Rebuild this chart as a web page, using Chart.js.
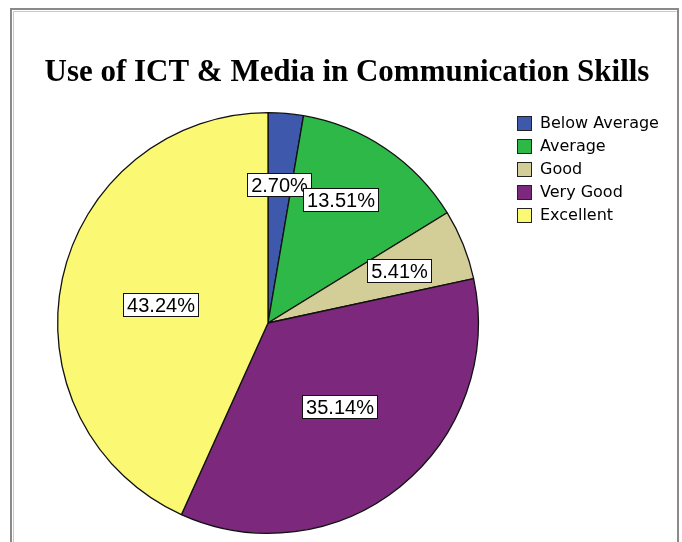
<!DOCTYPE html>
<html>
<head>
<meta charset="utf-8">
<script src="https://cdn.jsdelivr.net/npm/chart.js@4"></script>
<style>
html,body{margin:0;padding:0;background:#fff;}
canvas{display:block;}
</style>
</head>
<body>
<canvas id="c" width="682" height="542"></canvas>
<script>
const chartTitle = "Use of ICT & Media in Communication Skills";
const categories = ["Below Average", "Average", "Good", "Very Good", "Excellent"];
const counts = [1, 5, 2, 13, 16];
const percentLabels = ["2.70%", "13.51%", "5.41%", "35.14%", "43.24%"];
const sliceColors = ["#3E58AC", "#2EB848", "#D3CE97", "#7C287D", "#FBF873"];

// label placement styles: radial fraction and angular nudge (radians)
const labelRadius = [0.66, 0.68, 0.67, 0.52, 0.52];
const labelAngleNudge = [-0.005, -0.06, 0, -0.03, -0.04];

const framePlugin = {
  id: 'frame',
  beforeDraw(chart) {
    const ctx = chart.ctx;
    ctx.save();
    ctx.fillStyle = '#fff';
    ctx.fillRect(0, 0, chart.width, chart.height);
    ctx.strokeStyle = '#8a8a8a';
    ctx.lineWidth = 2;
    ctx.beginPath();
    ctx.moveTo(11, 542);
    ctx.lineTo(11, 9);
    ctx.lineTo(678, 9);
    ctx.lineTo(678, 542);
    ctx.stroke();
    ctx.strokeStyle = '#c8c8c8';
    ctx.lineWidth = 1;
    ctx.beginPath();
    ctx.moveTo(13.5, 542);
    ctx.lineTo(13.5, 11.5);
    ctx.lineTo(676.5, 11.5);
    ctx.stroke();
    // title
    let size = 29;
    ctx.font = 'bold ' + size + 'px "Liberation Serif"';
    const w = ctx.measureText(chartTitle).width;
    size = size * 605 / w;
    ctx.font = 'bold ' + size.toFixed(2) + 'px "Liberation Serif"';
    ctx.fillStyle = '#000';
    ctx.textAlign = 'center';
    ctx.textBaseline = 'alphabetic';
    ctx.fillText(chartTitle, 347, 81);
    ctx.restore();
  },
  afterDraw(chart) {
    const ctx = chart.ctx;
    ctx.save();
    // legend
    ctx.font = '16px "DejaVu Sans"';
    ctx.textBaseline = 'middle';
    ctx.textAlign = 'left';
    categories.forEach((c, i) => {
      const y = 116 + i * 23;
      ctx.fillStyle = sliceColors[i];
      ctx.fillRect(517, y, 15, 15);
      ctx.strokeStyle = '#222';
      ctx.lineWidth = 1;
      ctx.strokeRect(517.5, y + 0.5, 14, 14);
      ctx.fillStyle = '#000';
      ctx.fillText(c, 540, y + 8);
    });
    // slice labels
    const meta = chart.getDatasetMeta(0);
    ctx.font = '20px "Liberation Sans"';
    ctx.textAlign = 'center';
    meta.data.forEach((arc, i) => {
      const p = arc.getProps(['x', 'y', 'startAngle', 'endAngle', 'outerRadius'], true);
      const a = (p.startAngle + p.endAngle) / 2 + labelAngleNudge[i];
      const r = p.outerRadius * labelRadius[i];
      const cx = p.x + Math.cos(a) * r;
      const cy = p.y + Math.sin(a) * r;
      const t = percentLabels[i];
      const tw = ctx.measureText(t).width;
      const bw = Math.round(tw + 7), bh = 23;
      const bx = Math.round(cx - bw / 2) + 0.5, by = Math.round(cy - bh / 2) + 0.5;
      ctx.fillStyle = '#fff';
      ctx.fillRect(bx, by, bw, bh);
      ctx.strokeStyle = '#111';
      ctx.lineWidth = 1;
      ctx.strokeRect(bx, by, bw, bh);
      ctx.fillStyle = '#000';
      ctx.fillText(t, bx + bw / 2, by + bh / 2 + 1);
    });
    ctx.restore();
  }
};

new Chart(document.getElementById('c'), {
  type: 'pie',
  data: {
    labels: categories,
    datasets: [{
      data: counts,
      backgroundColor: sliceColors,
      borderColor: '#111',
      borderWidth: 1.3
    }]
  },
  options: {
    responsive: false,
    animation: false,
    layout: { padding: { left: 57, right: 203, top: 112, bottom: 8 } },
    plugins: {
      legend: { display: false },
      title: { display: false },
      tooltip: { enabled: false }
    }
  },
  plugins: [framePlugin]
});
</script>
</body>
</html>
